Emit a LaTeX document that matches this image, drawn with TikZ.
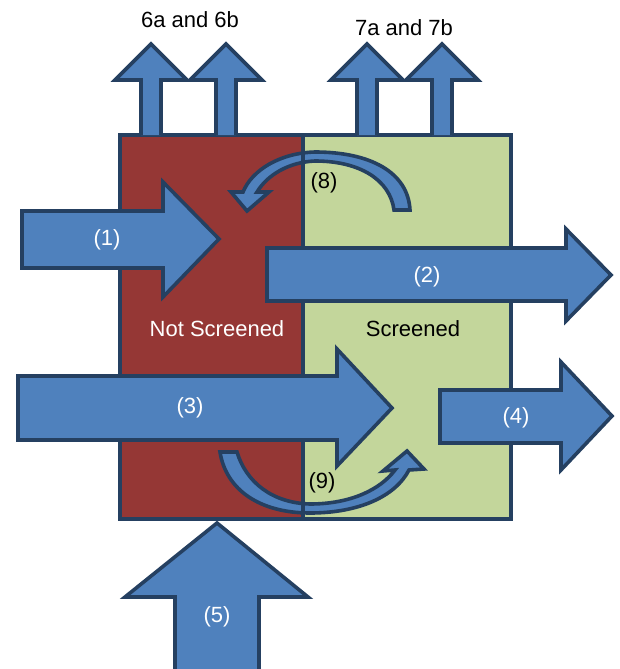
\documentclass[tikz,border=0pt]{standalone}
\usepackage{fontspec}
\setmainfont{Liberation Sans}
\definecolor{boxred}{RGB}{149,55,53}
\definecolor{boxgreen}{RGB}{195,214,155}
\definecolor{arrblue}{RGB}{79,129,189}
\definecolor{arredge}{RGB}{37,64,97}
\tikzset{
  blockarrow/.style={fill=arrblue,draw=arredge,line width=3.6pt,line join=miter},
  boxedge/.style={draw=arredge,line width=3.6pt},
  lbl/.style={font=\fontsize{22}{26}\selectfont,inner sep=0pt},
  wlbl/.style={lbl,text=white}
}
\begin{document}
\begin{tikzpicture}[x=1pt,y=-1pt]
\useasboundingbox (0,0) rectangle (619,669);
% boxes
\fill[boxred] (120,135) rectangle (303,519);
\fill[boxgreen] (303,135) rectangle (511,519);
% curved arrow (8)
\path[blockarrow] (410,210) .. controls (408,172) and (370,152) .. (315,152)
  .. controls (280,153) and (252,170) .. (243,192)
  -- (231,192) -- (247,211) -- (269,192) -- (257,192)
  .. controls (268,174) and (290,162) .. (315,161)
  .. controls (360,161) and (390,180) .. (394,210) -- cycle;
% curved arrow (9)
\path[blockarrow] (220,452) -- (237,452)
  .. controls (246,482) and (272,503) .. (310,504)
  .. controls (350,504) and (380,490) .. (395,470)
  -- (383,471) -- (407,451) -- (424,469) -- (409,470)
  .. controls (395,497) and (358,513) .. (310,513)
  .. controls (260,513) and (226,490) .. (220,452) -- cycle;
% box borders and divider
\draw[boxedge] (120,135) rectangle (511,519);
\draw[boxedge] (303,135) -- (303,519);
% top arrows 6a 6b 7a 7b
\foreach \c in {151,226,367,442}{
  \path[blockarrow] (\c-10,135) -- (\c-10,80) -- (\c-36,80) -- (\c,44)
    -- (\c+36,80) -- (\c+10,80) -- (\c+10,135);
}
% arrow (1)
\path[blockarrow] (22,211) -- (163,211) -- (163,182) -- (219,239)
  -- (163,297) -- (163,268) -- (22,268) -- cycle;
% arrow (2)
\path[blockarrow] (267,248) -- (566,248) -- (566,229) -- (611,275)
  -- (566,321) -- (566,301) -- (267,301) -- cycle;
% arrow (3)
\path[blockarrow] (18,376) -- (337,376) -- (337,349) -- (392,408)
  -- (337,466) -- (337,440) -- (18,440) -- cycle;
% arrow (4)
\path[blockarrow] (440,390) -- (561,390) -- (561,362) -- (612,416)
  -- (561,470) -- (561,443) -- (440,443) -- cycle;
% arrow (5)
\path[blockarrow] (175,675) -- (175,597) -- (125,597) -- (217,523)
  -- (308,597) -- (259,597) -- (259,675);
% labels
\node[lbl] (t6) at (190,20) {6a and 6b};
\node[lbl] (t7) at (404,28) {7a and 7b};
\node[wlbl] (l1) at (107,240) {(1)};
\node[wlbl] (l2) at (427,277) {(2)};
\node[wlbl] (l3) at (190,408) {(3)};
\node[wlbl] (l4) at (516,418) {(4)};
\node[wlbl] (l5) at (217,617) {(5)};
\node[lbl] (l8) at (324,183) {(8)};
\node[lbl] (l9) at (322,483) {(9)};
\node[wlbl] (ns) at (217,329) {Not Screened};
\node[lbl] (sc) at (413,329) {Screened};
\end{tikzpicture}
\end{document}
